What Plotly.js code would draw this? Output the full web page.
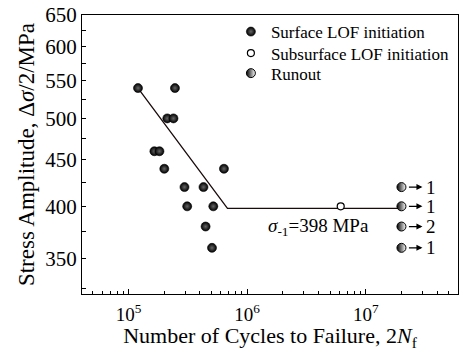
<!DOCTYPE html>
<html>
<head>
<meta charset="utf-8">
<script src="https://cdn.plot.ly/plotly-3.0.1.min.js"></script>
<style>html,body{margin:0;padding:0;background:#fff;}#chart{width:459px;height:351px;}</style>
</head>
<body>
<div id="chart"></div>
<script>
// Surface LOF initiation
const surfaceCycles = [1.2e5, 2.46e5, 2.12e5, 2.39e5, 1.65e5, 1.82e5, 2.0e5, 2.96e5, 4.28e5, 3.12e5, 5.18e5, 4.46e5, 5.05e5, 6.37e5];
const surfaceStress = [540, 540, 500, 500, 460, 460, 440, 420, 420, 400, 400, 380, 360, 440];
// Subsurface LOF initiation
const subsurfaceCycles = [6.15e6];
const subsurfaceStress = [400];
// Runouts
const runoutCycles = [2e7, 2e7, 2e7, 2e7];
const runoutStress = [420, 400, 380, 360];
const runoutCounts = ['1', '1', '2', '1'];
// Fitted S-N curve
const fitCycles = [1.2e5, 6.82e5, 2e7];
const fitStress = [540, 398, 398];
const fatigueLimit = 398;
// Axis ticks
const yTickVals = [350, 400, 450, 500, 550, 600, 650];
const yMinorVals = [325, 375, 425, 475, 525, 575, 625];
const xTickVals = [1e5, 1e6, 1e7];
const xTickText = ['10<sup>5</sup>', '10<sup>6</sup>', '10<sup>7</sup>'];

const FONT = 'Liberation Serif';

const traces = [
  {
    x: fitCycles, y: fitStress, mode: 'lines', type: 'scatter',
    line: {color: '#1a0a0a', width: 1.3}, showlegend: false, hoverinfo: 'skip'
  },
  {
    x: surfaceCycles, y: surfaceStress, mode: 'markers', type: 'scatter',
    name: 'Surface LOF initiation', legend: 'legend',
    marker: {symbol: 'circle', size: 9, color: '#000',
      gradient: {type: 'radial', color: '#666'},
      line: {color: '#000', width: 0.6}}
  },
  {
    x: subsurfaceCycles, y: subsurfaceStress, mode: 'markers', type: 'scatter',
    name: 'Subsurface LOF initiation', legend: 'legend2',
    marker: {symbol: 'circle', size: 7, color: '#fff', line: {color: '#000', width: 1.2}}
  },
  {
    x: runoutCycles, y: runoutStress, mode: 'markers', type: 'scatter',
    name: 'Runout', legend: 'legend3',
    marker: {symbol: 'circle', size: 9, color: '#000',
      gradient: {type: 'horizontal', color: '#fff'},
      line: {color: '#000', width: 1}}
  }
];

const annotations = [{
  x: Math.log10(4e6), y: Math.log10(380), xref: 'x', yref: 'y',
  text: '<i>σ</i><sub>-1</sub>=' + fatigueLimit + ' MPa', showarrow: false,
  font: {family: FONT, size: 19, color: '#000'}
}];
runoutCycles.forEach((c, i) => {
  annotations.push({
    x: Math.log10(c), y: Math.log10(runoutStress[i]), xref: 'x', yref: 'y',
    text: '', showarrow: true, arrowhead: 2, arrowsize: 1, arrowwidth: 1.2,
    arrowcolor: '#000', ax: -15, ay: 0, xshift: 21
  });
  annotations.push({
    x: Math.log10(c), y: Math.log10(runoutStress[i]), xref: 'x', yref: 'y',
    text: runoutCounts[i], showarrow: false, xanchor: 'left', xshift: 23,
    font: {family: FONT, size: 19, color: '#000'}
  });
});

const legendBase = {xanchor: 'left', yanchor: 'middle', x: 0.396,
  bgcolor: 'rgba(0,0,0,0)', font: {family: FONT, size: 17, color: '#000'}};

const layout = {
  width: 459, height: 351,
  margin: {l: 82, r: 1, t: 15, b: 57},
  paper_bgcolor: '#fff', plot_bgcolor: '#fff',
  font: {family: FONT, color: '#000', size: 19},
  showlegend: true,
  legend: Object.assign({}, legendBase, {y: 0.939}),
  legend2: Object.assign({}, legendBase, {y: 0.862}),
  legend3: Object.assign({}, legendBase, {y: 0.790}),
  xaxis: {
    type: 'log', range: [4.607, 7.778],
    tickmode: 'array', tickvals: xTickVals, ticktext: xTickText,
    ticks: 'inside', ticklen: 5, tickwidth: 1, tickcolor: '#000',
    ticklabelstandoff: 3,
    minor: {ticks: 'inside', ticklen: 3, tickwidth: 1, tickcolor: '#000', dtick: 'D1', showgrid: false},
    showline: true, linecolor: '#000', linewidth: 1, mirror: true,
    showgrid: false, zeroline: false,
    tickfont: {family: FONT, size: 19, color: '#000'},
    title: {text: 'Number of Cycles to Failure, 2<i>N</i><sub>f</sub>', font: {family: FONT, size: 22, color: '#000'}, standoff: 10}
  },
  yaxis: {
    type: 'log', range: [Math.log10(320.2), Math.log10(650)],
    tickmode: 'array', tickvals: yTickVals,
    ticks: 'inside', ticklen: 4, tickwidth: 1, tickcolor: '#000',
    minor: {tickmode: 'array', tickvals: yMinorVals, ticks: 'inside', ticklen: 4, tickwidth: 1, tickcolor: '#000', showgrid: false},
    showline: true, linecolor: '#000', linewidth: 1, mirror: true,
    showgrid: false, zeroline: false,
    tickfont: {family: FONT, size: 21, color: '#000'},
    title: {text: 'Stress Amplitude, Δ<i>σ</i>/2/MPa', font: {family: FONT, size: 23, color: '#000'}, standoff: 4}
  },
  annotations: annotations
};

Plotly.newPlot('chart', traces, layout, {displayModeBar: false, staticPlot: true});
</script>
</body>
</html>
